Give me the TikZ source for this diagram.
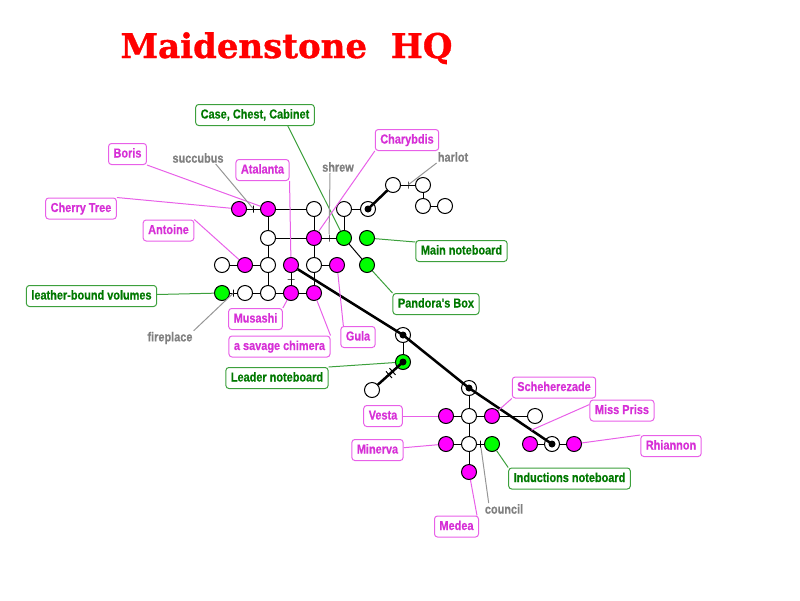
\documentclass[tikz,border=0pt]{standalone}
\usepackage{fontspec}
\usepackage{tikz}
\usepackage{xcolor}
\newfontfamily\lblfont[FakeStretch=0.84,FakeBold=0.5]{Liberation Sans}
\newfontfamily\hqfont[FakeBold=1]{DejaVu Serif}
\definecolor{roomm}{RGB}{255,0,255}
\definecolor{roomg}{RGB}{0,255,0}
\definecolor{pinktext}{RGB}{214,48,214}
\definecolor{pinkline}{RGB}{232,96,232}
\definecolor{greentext}{RGB}{0,120,0}
\definecolor{greenline}{RGB}{60,160,60}
\definecolor{greytext}{RGB}{128,128,128}
\definecolor{greyline}{RGB}{150,150,150}

\begin{document}
\begin{tikzpicture}[x=1pt,y=-1pt,
    room/.style={circle,draw,line width=1pt,fill=white,minimum size=15pt,inner sep=0pt},
    mroom/.style={room,fill=roomm},
    groom/.style={room,fill=roomg},
    door/.style={draw,line width=1pt,rectangle,inner sep=0pt,minimum width=0pt,minimum height=7pt,sloped},
    link/.style={line width=1pt},
    tube/.style={line width=2.5pt},
    tag/.style={draw,rounded corners=3pt,line width=1pt,inner xsep=5pt,minimum height=21pt,
        text height=9.5pt,text depth=2.5pt,font=\lblfont\bfseries\fontsize{13}{15}\selectfont},
    ptag/.style={tag,draw=pinkline,text=pinktext},
    gtag/.style={tag,draw=greenline,text=greentext},
    note/.style={inner sep=1pt,text=greytext,font=\lblfont\bfseries\fontsize{13}{15}\selectfont},
    pline/.style={pinkline,line width=1pt},
    gline/.style={greenline,line width=1pt},
    nline/.style={greyline,line width=1pt}]
\useasboundingbox (0,0) rectangle (800,600);

\node[anchor=base,text=red,font=\hqfont\bfseries\fontsize{34}{40}\selectfont] (title) at (286.5,58) {Maidenstone\ \ HQ};

\foreach \n/\x/\y in {w1/314/209, w2/344/209, w3/393/185, w4/423/185, w5/423/206, w6/445/206,
    w7/268/238, w8/222/265, w9/268/265, w10/314/265, w11/245/293, w12/268/293,
    w13/372/390, w14/469/416, w15/535/416, w16/469/444, p1/368/209, p2/403/335, p3/469/388, p4/552/444}
    \node[room] (\n) at (\x,\y) {};
\foreach \n/\x/\y in {cherry/239/209, boris/268/209, charybdis/314/238, antoine/245/265,
    atalanta/291/265, gula/337/265, musashi/291/293, chimera/314/293, vesta/446/416,
    scheh/492/416, minerva/446/444, m1/530/444, rhiannon/574/444, medea/469/472}
    \node[mroom] (\n) at (\x,\y) {};
\foreach \n/\x/\y in {case/344/238, mainnb/367/238, pandora/367/265, leather/222/293, induct/492/444,
    leader/403/362}
    \node[groom] (\n) at (\x,\y) {};

\foreach \a/\b in {boris/w1, w2/p1, boris/w7, w7/w9, w9/w12, w1/charybdis, charybdis/w10,
    w10/chimera, w2/case, w7/charybdis, case/pandora, w8/antoine, antoine/w9, w10/gula,
    w11/w12, w12/musashi, musashi/chimera, w4/w5, w5/w6, p2/leader, p3/w14, w14/w16,
    w16/medea, vesta/w14, w14/scheh, scheh/w15, minerva/w16, m1/p4, p4/rhiannon}
    \draw[link] (\a) -- (\b);
\draw[link] (cherry) -- node[door,midway] (d1) {} (boris);
\draw[link] (charybdis) -- node[door,midway] (d2) {} (case);
\draw[link] (atalanta) -- node[door,midway] (d3) {} (musashi);
\draw[link] (leather) -- node[door,midway] (d4) {} (w11);
\draw[link] (w3) -- node[door,midway] (d5) {} (w4);
\draw[link] (w16) -- node[door,midway] (d6) {} (induct);

\draw[tube] (p1.center) -- (w3);
\draw[tube] (atalanta) -- (p2.center) -- (p3.center) -- (p4.center);
\draw[tube] (leader.center) -- node[door,pos=0.42,minimum height=9pt] (d7) {}
    node[door,pos=0.56,minimum height=9pt] (d8) {} (w13);
\foreach \p in {p1,p2,p3,p4,leader}
    \fill (\p) circle (3.5pt);
\path (p3) -- (p4) coordinate[pos=0.8] (prissmark);

\node[gtag] (lcase) at (255,115) {Case, Chest, Cabinet};
\node[ptag] (lcharybdis) at (407,140) {Charybdis};
\node[ptag] (lboris) at (127.5,154) {Boris};
\node[ptag] (lcherry) at (81,208.5) {Cherry Tree};
\node[ptag] (latalanta) at (262.5,170) {Atalanta};
\node[ptag] (lantoine) at (168.5,230.5) {Antoine};
\node[gtag] (lleather) at (91.5,296) {leather-bound volumes};
\node[ptag] (lmusashi) at (255.5,319) {Musashi};
\node[ptag] (lchimera) at (279.5,346.5) {a savage chimera};
\node[ptag] (lgula) at (358,337) {Gula};
\node[gtag] (lleader) at (277,378) {Leader noteboard};
\node[gtag] (lmainnb) at (461.5,251) {Main noteboard};
\node[gtag] (lpandora) at (436,304) {Pandora's Box};
\node[ptag] (lscheh) at (554,387.5) {Scheherezade};
\node[ptag] (lpriss) at (622,410.5) {Miss Priss};
\node[ptag] (lrhiannon) at (671,446) {Rhiannon};
\node[ptag] (lvesta) at (383,416) {Vesta};
\node[ptag] (lminerva) at (377.5,450) {Minerva};
\node[gtag] (linduct) at (569.5,478.5) {Inductions noteboard};
\node[ptag] (lmedea) at (456.5,526.5) {Medea};

\node[note] (nsuccubus) at (198,158) {succubus};
\node[note] (nshrew) at (338,167) {shrew};
\node[note] (nharlot) at (453,157) {harlot};
\node[note] (nfireplace) at (170,338) {fireplace};
\node[note] (ncouncil) at (504,509) {council};

\draw[gline] ([xshift=-27pt]lcase.south east) -- (case);
\draw[pline] (lcharybdis.south west) -- (charybdis);
\draw[pline] (lboris.south east) -- (boris);
\draw[pline] (lcherry.north east) -- (cherry);
\draw[pline] (latalanta.south east) -- (atalanta);
\draw[pline] (lantoine.north east) -- (antoine);
\draw[gline] (lleather) -- (leather);
\draw[pline] (lmusashi.north east) -- (musashi);
\draw[pline] (lchimera.north east) -- (chimera);
\draw[pline] ([xshift=3pt]lgula.north west) -- (gula);
\draw[gline] (lleader.north east) -- (leader);
\draw[gline] ([yshift=-2pt]lmainnb.north west) -- (mainnb);
\draw[gline] (lpandora.north west) -- (pandora);
\draw[pline] (lscheh.south west) -- (scheh);
\draw[pline] ([yshift=-5pt]lpriss.north west) -- (prissmark);
\draw[pline] (lrhiannon.north west) -- (rhiannon);
\draw[pline] (lvesta) -- (vesta);
\draw[pline] (lminerva) -- (minerva);
\draw[gline] (linduct.north west) -- (induct);
\draw[pline] ([xshift=-2pt]lmedea.north east) -- (medea);

\draw[nline] ([xshift=-9pt]nsuccubus.south east) -- (d1);
\draw[nline] ([xshift=-8pt]nshrew.south) -- (d2);
\draw[nline] (nharlot.south west) -- (d5);
\draw[nline] (nfireplace.north east) -- (d4);
\draw[nline] ([xshift=5pt]ncouncil.north west) -- (d6);
\end{tikzpicture}
\end{document}
